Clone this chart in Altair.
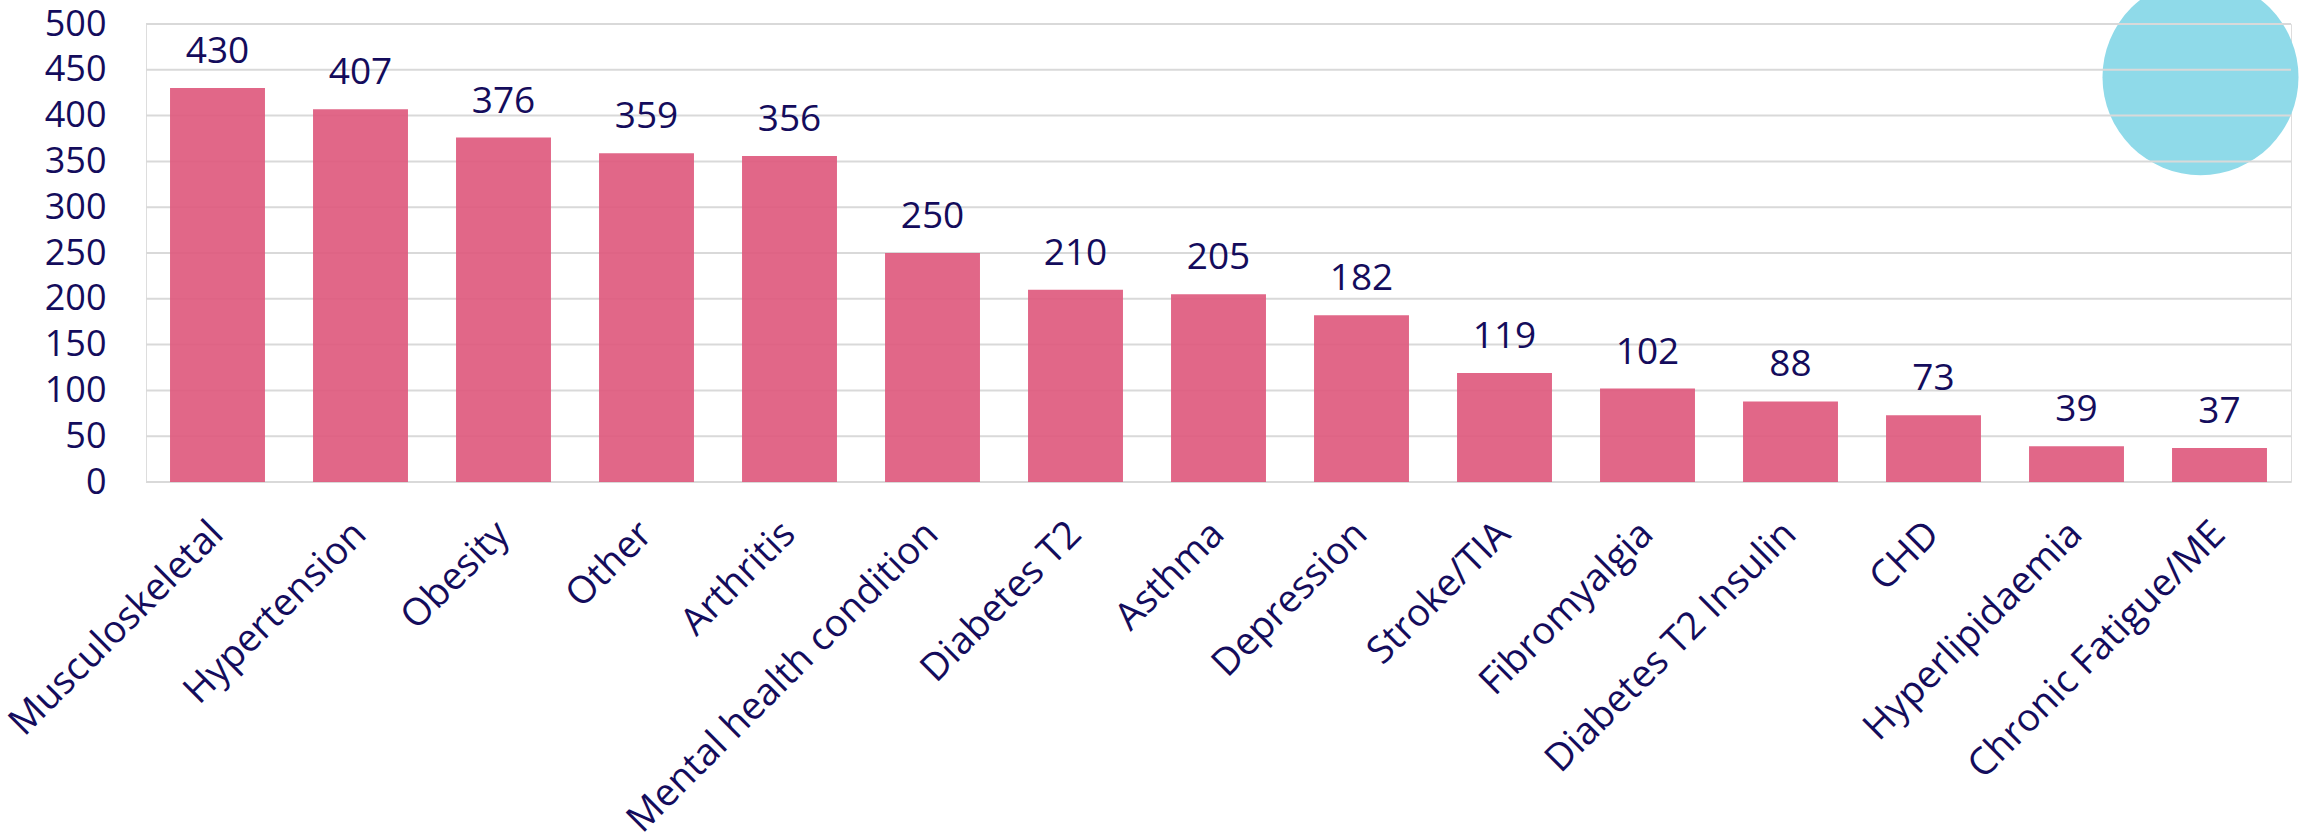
import altair as alt
import pandas as pd

categories = ["Musculoskeletal", "Hypertension", "Obesity", "Other", "Arthritis",
              "Mental health condition", "Diabetes T2", "Asthma", "Depression",
              "Stroke/TIA", "Fibromyalgia", "Diabetes T2 Insulin", "CHD",
              "Hyperlipidaemia", "Chronic Fatigue/ME"]
values = [430, 407, 376, 359, 356, 250, 210, 205, 182, 119, 102, 88, 73, 39, 37]
y_ticks = [0, 50, 100, 150, 200, 250, 300, 350, 400, 450, 500]

NAVY = "#140C5C"
PINK = "#DE5A7E"
CYAN = "#8FDAE9"
GRID = "#D9D9D9"
FONT = "Open Sans"

df = pd.DataFrame({"cat": categories, "val": values})
grid_df = pd.DataFrame({"t": y_ticks})
deco_df = pd.DataFrame({"cat": [categories[-1]], "val": [442]})

x_scale = alt.Scale(paddingInner=0.336, paddingOuter=0.168)
x_enc = alt.X("cat:N", sort=categories, title=None, scale=x_scale,
              axis=alt.Axis(labelAngle=315, labelAlign="right", labelBaseline="middle",
                            labelFontSize=38, labelFont=FONT, labelColor=NAVY,
                            labelPadding=46, ticks=False, domain=False, grid=False,
                            labelLimit=1000))
y_scale = alt.Scale(domain=[0, 500], nice=False)
y_enc = alt.Y("val:Q", scale=y_scale, title=None,
              axis=alt.Axis(values=y_ticks, grid=False, domain=False, ticks=False,
                            labelFontSize=36, labelFont=FONT, labelColor=NAVY,
                            labelPadding=40))

circle = alt.Chart(deco_df).mark_circle(size=38416, color=CYAN, opacity=1, xOffset=-19).encode(
    x=alt.X("cat:N", sort=categories, scale=x_scale),
    y=alt.Y("val:Q", scale=y_scale),
)

grid = alt.Chart(grid_df).mark_rule(color=GRID, strokeWidth=2).encode(
    y=alt.Y("t:Q", scale=y_scale)
)

bars = alt.Chart(df).mark_bar(color=PINK, opacity=0.92).encode(x=x_enc, y=y_enc)

labels = alt.Chart(df).mark_text(fontSize=37, font=FONT, color=NAVY,
                                 baseline="bottom", dy=-17).encode(
    x=alt.X("cat:N", sort=categories),
    y=alt.Y("val:Q", scale=y_scale),
    text=alt.Text("val:Q"),
)

chart = alt.layer(circle, grid, bars, labels).properties(
    width=2145, height=458,
    padding={"left": 146, "top": 24, "right": 14, "bottom": 350},
    autosize="none",
).configure_view(stroke=None).configure(background="white")

chart.save("out.html", embed_options={"renderer": "svg", "actions": False})
